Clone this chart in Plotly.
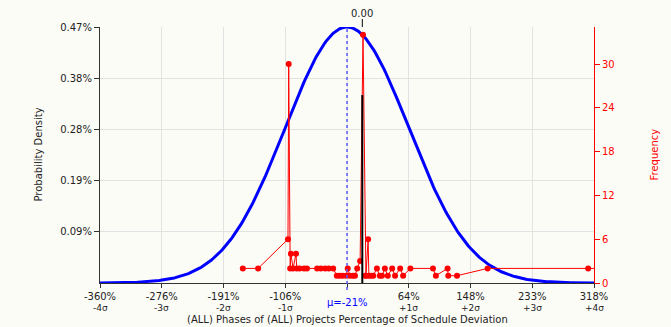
import math
import plotly.graph_objects as go

# ---- data ----
mean_pct = -21.0
sigma_pct = 84.75
sigma_steps = [-4, -3, -2, -1, 0, 1, 2, 3, 4]
x_tick_labels = ["-360%", "-276%", "-191%", "-106%", "", "64%", "148%", "233%", "318%"]
sigma_labels = ["-4σ", "-3σ", "-2σ", "-1σ", "", "+1σ", "+2σ", "+3σ", "+4σ"]
density_tick_labels = ["0.09%", "0.19%", "0.28%", "0.38%", "0.47%"]
freq_ticks = [0, 6, 12, 18, 24, 30]
freq_axis_max = 35.07

deviation_pct = [-164, -143, -102, -101, -99, -98, -95, -91, -90, -86, -80, -76, -62, -57, -51,
                 -46, -40, -35, -31, -27, -22, -20, -17, -13, -10, -7, -3, 1, 4, 5, 8, 9, 12,
                 15, 20, 24, 27, 31, 35, 41, 45, 52, 56, 66, 97, 101, 117, 118, 130, 172, 310, 331]
frequency = [2, 2, 6, 30, 2, 4, 2, 4, 2, 2, 2, 2, 2, 2, 2,
             2, 2, 1, 1, 1, 1, 2, 1, 1, 1, 2, 3, 34, 1, 1, 6, 1, 1,
             1, 2, 1, 1, 2, 1, 2, 1, 2, 1, 2, 2, 1, 2, 1, 1, 2, 2, 2]
zero_marker_freq = 25.75

# ---- normal curve (defined by mean and sigma) ----
peak = 100.0 / (sigma_pct * math.sqrt(2 * math.pi))
xs = [mean_pct + sigma_pct * (-4 + 8 * i / 400) for i in range(401)]
ys = [peak * math.exp(-0.5 * ((x - mean_pct) / sigma_pct) ** 2) for x in xs]

x_tick_vals = [mean_pct + k * sigma_pct for k in sigma_steps]
density_tick_vals = [peak * (i + 1) / 5 for i in range(5)]

BG = "#fcfcf7"
FONT = "DejaVu Sans"
W, H = 671, 327
ml, mr, mt, mb = 100, 77, 27, 44
pw, ph = W - ml - mr, H - mt - mb


def py(pix):
    return (H - mb - pix) / ph


def px(pix):
    return (pix - ml) / pw


fig = go.Figure()
fig.add_trace(go.Scatter(x=xs, y=ys, mode="lines", line=dict(color="#0000ff", width=3),
                         hoverinfo="skip", showlegend=False))
fig.add_trace(go.Scatter(x=deviation_pct, y=frequency, yaxis="y2", mode="lines+markers",
                         line=dict(color="#ff0000", width=1), marker=dict(color="#ff0000", size=6),
                         cliponaxis=False, showlegend=False))

xmin = mean_pct - 4 * sigma_pct
xmax = mean_pct + 4 * sigma_pct

shapes = [
    dict(type="line", xref="x", yref="paper", x0=mean_pct, x1=mean_pct, y0=-0.027, y1=1,
         line=dict(color="#5a5aff", width=1.5, dash="dot"), layer="above"),
    dict(type="line", xref="x", yref="paper", x0=0, x1=0, y0=1, y1=py(19),
         line=dict(color="black", width=1)),
    dict(type="line", xref="x", yref="y2", x0=0, x1=0, y0=0, y1=zero_marker_freq,
         line=dict(color="black", width=2), layer="above"),
]

annotations = [
    dict(text="0.00", x=0, xref="x", y=py(13), yref="paper", showarrow=False,
         font=dict(family=FONT, size=10, color="#222"), yanchor="middle"),
    dict(text=f"μ={mean_pct:.0f}%", x=mean_pct, xref="x", y=py(302), yref="paper", showarrow=False,
         font=dict(family=FONT, size=10, color="#0000ff"), yanchor="middle"),
    dict(text="(ALL) Phases of (ALL) Projects Percentage of Schedule Deviation", x=0.5, xref="paper",
         y=py(319.5), yref="paper", showarrow=False, yanchor="middle",
         font=dict(family=FONT, size=10, color="#222")),
    dict(text="Probability Density", x=px(30), xref="paper", y=0.5, yref="paper", showarrow=False,
         textangle=-90, font=dict(family=FONT, size=10, color="#222")),
    dict(text="Frequency", x=px(661), xref="paper", y=0.5, yref="paper", showarrow=False,
         textangle=-90, font=dict(family=FONT, size=10, color="#ff0000")),
]
for v, s in zip(x_tick_vals, sigma_labels):
    if s:
        annotations.append(dict(text=s, x=v, xref="x", y=py(307.5), yref="paper", showarrow=False,
                                yanchor="middle", font=dict(family=FONT, size=9, color="#222")))

fig.update_layout(
    width=W, height=H,
    margin=dict(l=ml, r=mr, t=mt, b=mb, pad=0),
    paper_bgcolor=BG, plot_bgcolor=BG,
    font=dict(family=FONT, size=10, color="#222"),
    xaxis=dict(range=[xmin, xmax], tickvals=x_tick_vals, ticktext=x_tick_labels,
               showgrid=True, gridcolor="#e2e2e2", gridwidth=1,
               showline=True, linecolor="#333", linewidth=1,
               ticks="outside", ticklen=4, tickcolor="#333", zeroline=False,
               tickfont=dict(family=FONT, size=10, color="#222")),
    yaxis=dict(range=[0, peak], tickvals=density_tick_vals, ticktext=density_tick_labels,
               showgrid=True, gridcolor="#e2e2e2", gridwidth=1,
               showline=True, linecolor="#333", linewidth=1,
               ticks="outside", ticklen=5, tickcolor="#333", zeroline=False,
               tickfont=dict(family=FONT, size=10, color="#222")),
    yaxis2=dict(range=[0, freq_axis_max], overlaying="y", side="right",
                tickvals=freq_ticks, showgrid=False, zeroline=False,
                showline=True, linecolor="#ff0000", linewidth=1,
                ticks="outside", ticklen=5, tickcolor="#ff0000",
                tickfont=dict(family=FONT, size=10, color="#ff0000")),
    shapes=shapes,
    annotations=annotations,
)

fig.write_html("out.html", config={"displayModeBar": False})
with open("out.html", encoding="utf-8") as f:
    html = f.read()
html = html.replace("<head>", "<head><style>html,body{margin:0;padding:0;background:%s;}</style>" % BG, 1)
with open("out.html", "w", encoding="utf-8") as f:
    f.write(html)
